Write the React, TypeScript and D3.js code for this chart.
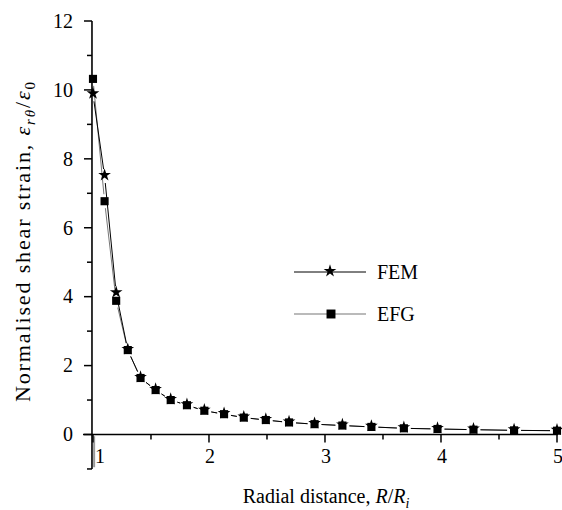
import React from "react";
import * as d3 from "d3";

const radialDistance = [1.0, 1.1, 1.2, 1.3, 1.41, 1.54, 1.67, 1.81, 1.96, 2.13, 2.3, 2.49, 2.69, 2.91, 3.15, 3.4, 3.68, 3.97, 4.28, 4.63, 5.0];
const femStrain = [9.87, 7.5, 4.1, 2.45, 1.64, 1.29, 1.0, 0.85, 0.69, 0.59, 0.49, 0.42, 0.35, 0.3, 0.26, 0.22, 0.18, 0.16, 0.14, 0.12, 0.11];
const efgStrain = [10.32, 6.77, 3.88, 2.45, 1.64, 1.29, 1.0, 0.85, 0.69, 0.59, 0.49, 0.42, 0.35, 0.3, 0.26, 0.22, 0.18, 0.16, 0.14, 0.12, 0.11];
const xMajorTicks = [1, 2, 3, 4, 5];
const xMinorTicks = [1.5, 2.5, 3.5, 4.5];
const yMajorTicks = [0, 2, 4, 6, 8, 10, 12];
const yMinorTicks = [-1, 1, 3, 5, 7, 9, 11];
// stray gray trace below the axis at R/Ri = 1
const strayTraceX = [1.01, 1.01];
const strayTraceY = [-0.05, -0.95];

const W = 562;
const H = 510;
const FONT = "'Liberation Serif', 'Times New Roman', serif";

export default function App() {
  const x = d3.scaleLinear().domain([0.914, 5]).range([83, 557]);
  const y = d3.scaleLinear().domain([0, 12]).range([434.5, 21]);

  const GAP = 7;
  const segments = (xs: number[], ys: number[]) => {
    const pts = xs.map((v, i) => [x(v), y(ys[i])]);
    const out: string[] = [];
    for (let i = 0; i < pts.length - 1; i++) {
      const [x0, y0] = pts[i];
      const [x1, y1] = pts[i + 1];
      const dx = x1 - x0, dy = y1 - y0;
      const len = Math.hypot(dx, dy);
      if (len <= 2 * GAP) continue;
      const ux = dx / len, uy = dy / len;
      out.push(`M${x0 + ux * GAP},${y0 + uy * GAP}L${x1 - ux * GAP},${y1 - uy * GAP}`);
    }
    return out.join("");
  };

  const star = d3.symbol().type(d3.symbolStar).size(50)() as string;
  const square = d3.symbol().type(d3.symbolSquare).size(66)() as string;
  const legendSquare = d3.symbol().type(d3.symbolSquare).size(80)() as string;
  const yAxisX = x(1) - 1;

  return (
    <svg width={W} height={H} style={{ position: "absolute", left: 0, top: 0 }} fontFamily={FONT}>
      <rect width={W} height={H} fill="white" />
      {/* stray trace */}
      <path
        d={`M${x(strayTraceX[0])},${y(strayTraceY[0])}L${x(strayTraceX[1])},${y(strayTraceY[1])}`}
        stroke="#999" strokeWidth={2} fill="none"
      />
      {/* Axes */}
      <line x1={yAxisX} x2={yAxisX} y1={y(12)} y2={y(-1)} stroke="black" strokeWidth={1.6} />
      <line x1={x(0.914)} x2={x(5) + 1} y1={y(0)} y2={y(0)} stroke="black" strokeWidth={1.6} />
      {yMajorTicks.map((t) => (
        <g key={"ym" + t}>
          <line x1={yAxisX - 8} x2={yAxisX} y1={y(t)} y2={y(t)} stroke="black" strokeWidth={1.5} />
          <text x={73} y={y(t)} dy="0.34em" textAnchor="end" fontSize={20}>{t}</text>
        </g>
      ))}
      {yMinorTicks.map((t) => (
        <line key={"yn" + t} x1={yAxisX - 5} x2={yAxisX} y1={y(t)} y2={y(t)} stroke="black" strokeWidth={1.5} />
      ))}
      {xMajorTicks.map((t) => (
        <g key={"xm" + t}>
          <line x1={x(t)} x2={x(t)} y1={y(0)} y2={y(0) + 8} stroke="black" strokeWidth={1.5} />
          <text x={x(t) + (t === 1 ? 7 : 1)} y={463} textAnchor="middle" fontSize={20}>{t}</text>
        </g>
      ))}
      {xMinorTicks.map((t) => (
        <line key={"xn" + t} x1={x(t)} x2={x(t)} y1={y(0)} y2={y(0) + 5} stroke="black" strokeWidth={1.5} />
      ))}

      {/* Lines */}
      <path d={segments(radialDistance, efgStrain)} stroke="#777" strokeWidth={1} fill="none" />
      <path d={segments(radialDistance, femStrain)} stroke="black" strokeWidth={1} fill="none" />

      {/* Markers */}
      {radialDistance.map((r, i) => (
        <path key={"sq" + i} d={square} transform={`translate(${x(r)},${y(efgStrain[i])})`} fill="black" />
      ))}
      {radialDistance.map((r, i) => (
        <path key={"st" + i} d={star} transform={`translate(${x(r)},${y(femStrain[i]) - 1})`} fill="black" />
      ))}

      {/* Legend */}
      <line x1={294} x2={366} y1={272} y2={272} stroke="black" strokeWidth={1} />
      <path d={star} transform="translate(330,271)" fill="black" />
      <text x={377} y={279} fontSize={20}>FEM</text>
      <line x1={294} x2={366} y1={314} y2={314} stroke="#777" strokeWidth={1.2} />
      <path d={legendSquare} transform="translate(331,314)" fill="black" />
      <text x={377} y={321} fontSize={20}>EFG</text>

      {/* Axis titles */}
      <text x={326} y={503} textAnchor="middle" fontSize={20}>
        Radial distance, <tspan fontStyle="italic">R</tspan>/<tspan fontStyle="italic">R</tspan>
        <tspan fontStyle="italic" fontSize={14} dy={5}>i</tspan>
      </text>
      <text
        transform="translate(30,242) rotate(-90)"
        textAnchor="middle"
        fontSize={22}
        textLength={320}
        lengthAdjust="spacing"
      >
        Normalised shear strain, <tspan fontStyle="italic">ε</tspan>
        <tspan fontStyle="italic" fontSize={15} dy={5}>rθ</tspan>
        <tspan dy={-5}>/</tspan>
        <tspan fontStyle="italic">ε</tspan>
        <tspan fontSize={15} dy={5}>0</tspan>
      </text>
    </svg>
  );
}
